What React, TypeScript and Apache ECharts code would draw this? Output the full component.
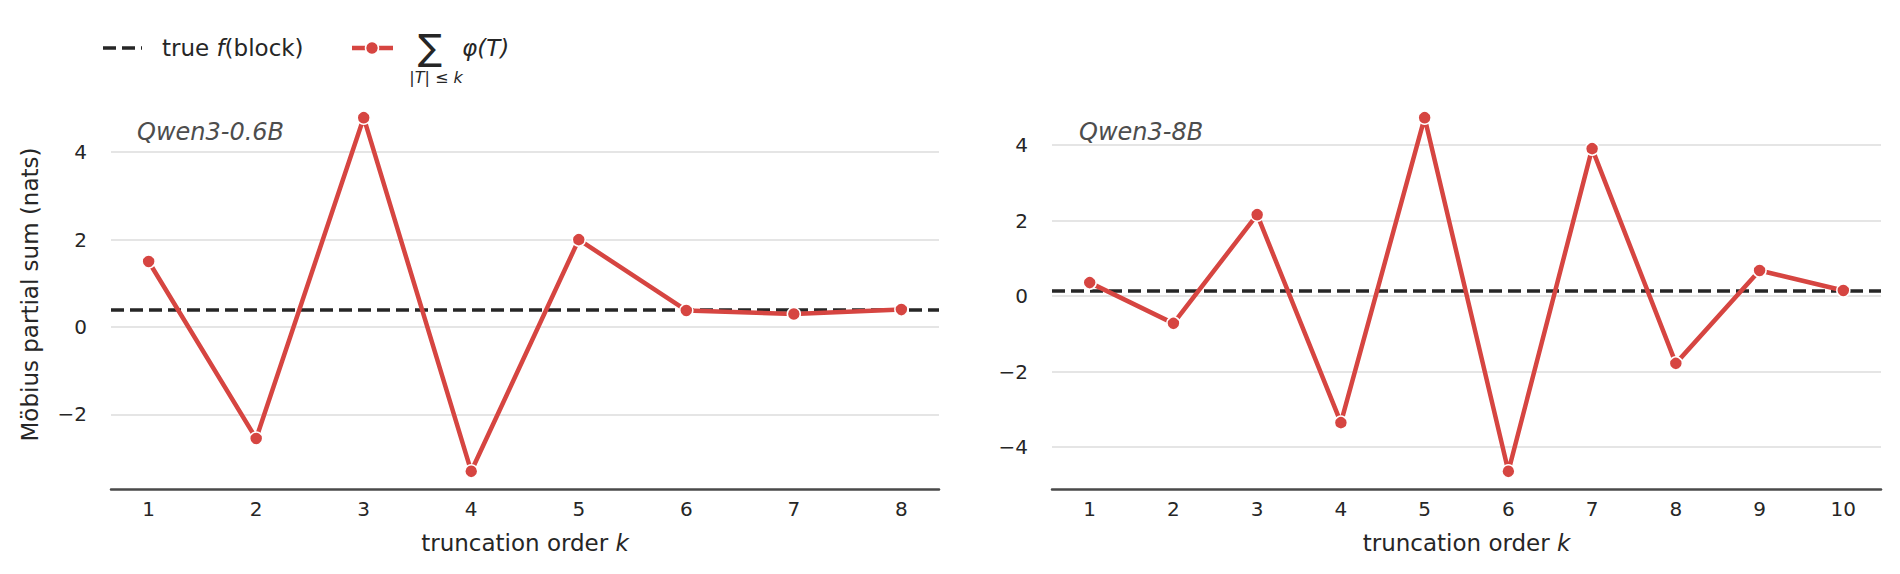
import React, { useEffect, useRef } from "react";
import * as echarts from "echarts";

// ---- data ----
const kSmall = [1, 2, 3, 4, 5, 6, 7, 8];
const partialSmall = [1.5, -2.55, 4.79, -3.3, 2.0, 0.38, 0.3, 0.4];
const trueSmall = 0.4;

const kLarge = [1, 2, 3, 4, 5, 6, 7, 8, 9, 10];
const partialLarge = [0.36, -0.72, 2.16, -3.35, 4.73, -4.64, 3.91, -1.78, 0.68, 0.15];
const trueLarge = 0.15;

const panelTitles = ["Qwen3-0.6B", "Qwen3-8B"];
const xAxisName = "truncation order {i|k}";
const yAxisName = "Möbius partial sum (nats)";
const legendTrue = ["true ", "f", "(block)"];
const legendSum = ["∑", "φ(T)", "|T| ≤ k"];

const RED = "#d64541";
const INK = "#262626";
const FONT = "DejaVu Sans";

function padded(vals: number[], m = 0.05): [number, number] {
  const lo = Math.min(...vals);
  const hi = Math.max(...vals);
  const d = (hi - lo) * m;
  return [lo - d, hi + d];
}

const minus = (v: number) => String(v).replace("-", "\u2212");

export default function App() {
  const ref = useRef<HTMLDivElement>(null);

  useEffect(() => {
    if (!ref.current) return;
    const chart = echarts.init(ref.current, undefined, { renderer: "svg" });

    const panels = [
      { k: kSmall, y: partialSmall, t: trueSmall, grid: { left: 111, right: 961, top: 100, bottom: 85 } },
      { k: kLarge, y: partialLarge, t: trueLarge, grid: { left: 1052, right: 19, top: 100, bottom: 85 } },
    ];

    const grids = panels.map((p) => ({ ...p.grid, containLabel: false }));
    const xAxes = panels.map((p, i) => {
      const [mn, mx] = padded(p.k);
      return {
        type: "value",
        gridIndex: i,
        min: mn,
        max: mx,
        minInterval: 1,
        maxInterval: 1,
        name: xAxisName,
        nameLocation: "middle",
        nameGap: 42,
        nameTextStyle: {
          fontFamily: FONT,
          fontSize: 23,
          color: INK,
          rich: { i: { fontStyle: "italic", fontFamily: FONT, fontSize: 23, color: INK } },
        },
        axisLine: { show: true, onZero: false, lineStyle: { color: "#4a4a4a", width: 2.5 } },
        axisTick: { show: false },
        splitLine: { show: false },
        axisLabel: {
          showMinLabel: false,
          showMaxLabel: false,
          fontFamily: FONT,
          fontSize: 20,
          color: INK,
          margin: 10,
        },
      };
    });
    const yAxes = panels.map((p, i) => {
      const [mn, mx] = padded(p.y);
      return {
        type: "value",
        gridIndex: i,
        min: mn,
        max: mx,
        minInterval: 2,
        maxInterval: 2,
        name: i === 0 ? yAxisName : "",
        nameLocation: "middle",
        nameGap: 70,
        nameTextStyle: { fontFamily: FONT, fontSize: 23, color: INK },
        axisLine: { show: false, onZero: false },
        axisTick: { show: false },
        splitLine: {
          show: true,
          showMinLine: false,
          showMaxLine: false,
          lineStyle: { color: "#dddddd", width: 1.7 },
        },
        axisLabel: {
          showMinLabel: false,
          showMaxLabel: false,
          fontFamily: FONT,
          fontSize: 20,
          color: INK,
          margin: 24,
          formatter: (v: number) => minus(v),
        },
      };
    });

    const series = panels.map((p, i) => ({
      type: "line",
      xAxisIndex: i,
      yAxisIndex: i,
      data: p.k.map((x, j) => [x, p.y[j]]),
      symbol: "circle",
      symbolSize: 13,
      z: 3,
      lineStyle: { color: RED, width: 4.5 },
      itemStyle: { color: RED, borderColor: "#ffffff", borderWidth: 1.5 },
      emphasis: { disabled: true },
      markLine: {
        silent: true,
        z: 1,
        symbol: ["none", "none"],
        label: { show: false },
        emphasis: { disabled: true },
        lineStyle: { color: INK, type: [13, 6], width: 3.5 },
        data: [{ yAxis: p.t }],
      },
    }));

    const titles = panelTitles.map((t, i) => ({
      text: t,
      left: i === 0 ? 137 : 1079,
      top: 120,
      padding: 0,
      textStyle: { fontFamily: FONT, fontSize: 24, fontStyle: "italic", fontWeight: "normal", color: "#4d4d4d" },
    }));

    const legendY = 48;
    const graphic = [
      {
        type: "line",
        shape: { x1: 103, y1: legendY, x2: 142, y2: legendY },
        style: { stroke: INK, lineWidth: 3.5, lineDash: [13, 6] },
      },
      {
        type: "text",
        x: 162,
        y: legendY,
        style: {
          text: `{a|${legendTrue[0]}}{i|${legendTrue[1]}}{a|${legendTrue[2]}}`,
          verticalAlign: "middle",
          rich: {
            a: { fontFamily: FONT, fontSize: 23, fill: INK },
            i: { fontFamily: FONT, fontSize: 23, fontStyle: "italic", fill: INK },
          },
        },
      },
      {
        type: "line",
        shape: { x1: 352, y1: legendY, x2: 393, y2: legendY },
        style: { stroke: RED, lineWidth: 4.5 },
      },
      {
        type: "circle",
        shape: { cx: 372, cy: legendY, r: 6.5 },
        style: { fill: RED, stroke: "#ffffff", lineWidth: 1.5 },
      },
      {
        type: "text",
        x: 430,
        y: 47,
        style: {
          text: legendSum[0],
          align: "center",
          verticalAlign: "middle",
          fontFamily: FONT,
          fontSize: 36,
          lineHeight: 36,
          fill: INK,
        },
      },
      {
        type: "text",
        x: 462,
        y: legendY,
        style: {
          text: legendSum[1],
          verticalAlign: "middle",
          fontFamily: FONT,
          fontSize: 23,
          fontStyle: "italic",
          fill: INK,
        },
      },
      {
        type: "text",
        x: 436,
        y: 77,
        style: {
          text: legendSum[2],
          align: "center",
          verticalAlign: "middle",
          fontFamily: FONT,
          fontSize: 16,
          lineHeight: 16,
          fontStyle: "italic",
          fill: INK,
        },
      },
    ];

    chart.setOption({
      animation: false,
      backgroundColor: "#ffffff",
      title: titles,
      grid: grids,
      xAxis: xAxes,
      yAxis: yAxes,
      series,
      graphic,
    });

    return () => chart.dispose();
  }, []);

  return (
    <div
      ref={ref}
      style={{ position: "fixed", left: 0, top: 0, width: 1900, height: 574 }}
    />
  );
}
